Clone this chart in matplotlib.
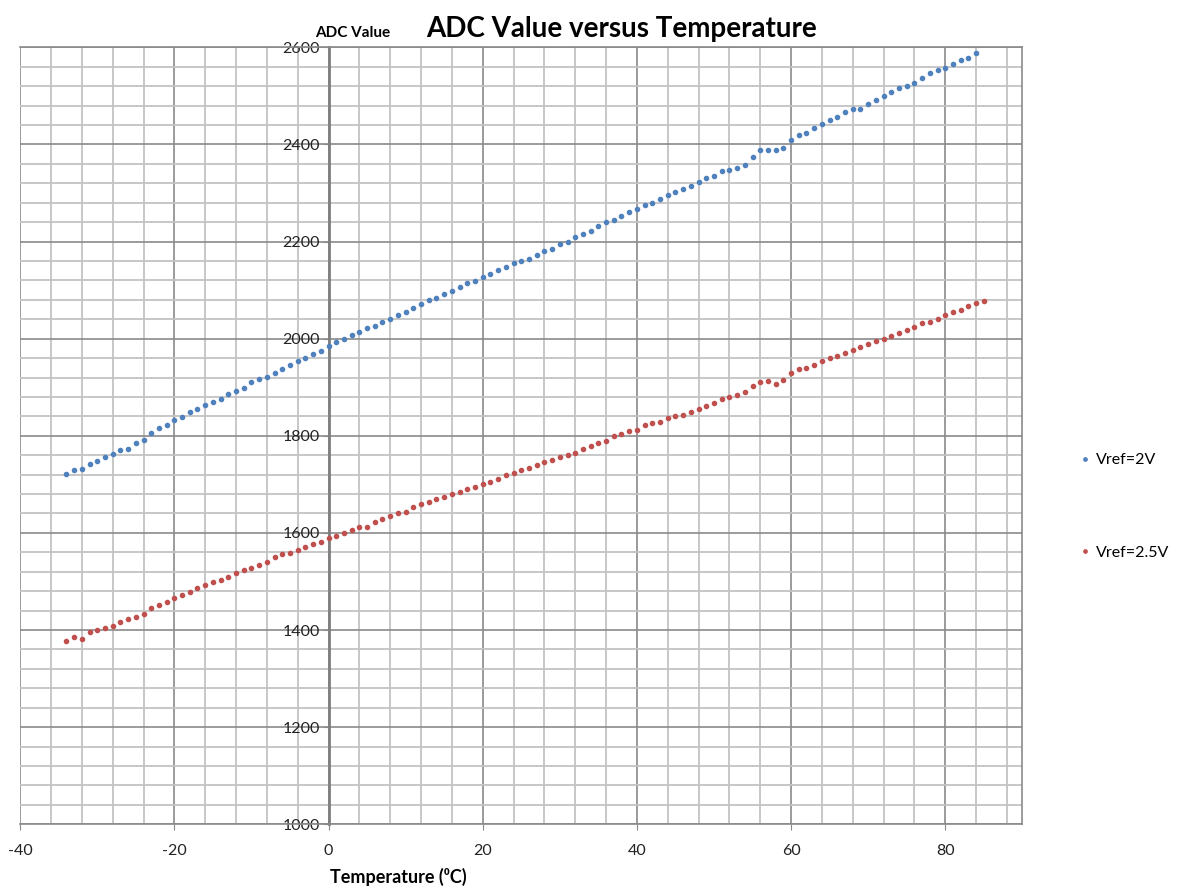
import matplotlib
matplotlib.use('Agg')
import matplotlib.pyplot as plt
from matplotlib.ticker import MultipleLocator

# Temperature (degC) and ADC readings
temp_2v = list(range(-34, 85))
adc_2v = [1722, 1729, 1732, 1742, 1749, 1757, 1763, 1770, 1773, 1785,
          1792, 1805, 1817, 1823, 1832, 1838, 1849, 1856, 1863, 1869,
          1876, 1887, 1893, 1899, 1910, 1917, 1922, 1929, 1938, 1945,
          1955, 1961, 1968, 1974, 1985, 1993, 2000, 2007, 2014, 2021,
          2027, 2034, 2041, 2048, 2055, 2064, 2072, 2079, 2084, 2091,
          2099, 2106, 2114, 2119, 2126, 2134, 2141, 2147, 2156, 2160,
          2165, 2172, 2180, 2185, 2194, 2199, 2209, 2215, 2222, 2233,
          2240, 2245, 2252, 2261, 2268, 2275, 2280, 2288, 2296, 2303,
          2308, 2315, 2323, 2330, 2336, 2345, 2348, 2351, 2357, 2375,
          2388, 2389, 2389, 2393, 2410, 2419, 2423, 2434, 2443, 2450,
          2456, 2467, 2474, 2474, 2484, 2492, 2499, 2508, 2517, 2520,
          2526, 2536, 2547, 2554, 2558, 2566, 2573, 2577, 2588]

temp_25v = list(range(-34, 86))
adc_25v = [1378, 1385, 1381, 1396, 1400, 1405, 1408, 1417, 1422, 1426,
           1434, 1445, 1451, 1458, 1465, 1472, 1479, 1486, 1493, 1499,
           1504, 1510, 1517, 1524, 1527, 1534, 1541, 1551, 1556, 1559,
           1565, 1570, 1577, 1582, 1589, 1594, 1599, 1606, 1612, 1612,
           1623, 1628, 1635, 1640, 1644, 1653, 1659, 1664, 1669, 1673,
           1680, 1685, 1690, 1694, 1701, 1705, 1712, 1719, 1723, 1730,
           1733, 1740, 1747, 1751, 1756, 1761, 1765, 1772, 1779, 1786,
           1790, 1799, 1804, 1809, 1812, 1823, 1827, 1829, 1836, 1841,
           1843, 1850, 1855, 1862, 1867, 1876, 1880, 1883, 1891, 1902,
           1910, 1912, 1907, 1915, 1929, 1937, 1939, 1946, 1955, 1960,
           1964, 1971, 1977, 1982, 1989, 1996, 1999, 2005, 2012, 2018,
           2025, 2032, 2035, 2040, 2049, 2055, 2060, 2067, 2074, 2078]

plt.rcParams['font.family'] = ['Lato', 'DejaVu Sans']
plt.rcParams['axes.unicode_minus'] = False

fig = plt.figure(figsize=(11.86, 8.93), dpi=100)
ax = fig.add_axes([0.017, 0.077, 0.845, 0.870])

ax.plot(temp_2v, adc_2v, linestyle='none', marker='o', ms=3.0,
        color='#4F81BD', label='Vref=2V', zorder=3)
ax.plot(temp_25v, adc_25v, linestyle='none', marker='o', ms=3.0,
        color='#C0504D', label='Vref=2.5V', zorder=3)

ax.set_xlim(-40, 90)
ax.set_ylim(1000, 2600)

# major / minor grid like the spreadsheet chart
ax.xaxis.set_major_locator(MultipleLocator(20))
ax.xaxis.set_minor_locator(MultipleLocator(4))
ax.yaxis.set_major_locator(MultipleLocator(200))
ax.yaxis.set_minor_locator(MultipleLocator(40))
ax.grid(which='minor', color='#c3c3c3', lw=1.3)
ax.grid(which='major', color='#8a8a8a', lw=1.2)
ax.set_axisbelow(True)

# y axis crosses at x = 0
ax.spines['left'].set_position(('data', 0))
ax.spines['left'].set_color('#7f7f7f')
ax.spines['left'].set_linewidth(2)
for s in ['top', 'right', 'bottom']:
    ax.spines[s].set_color('#8a8a8a')
    ax.spines[s].set_linewidth(1.2)

ax.tick_params(which='minor', length=0)
ax.tick_params(axis='y', which='major', length=4, color='#8a8a8a',
               labelsize=11.5, pad=2, labelcolor='#222222')
ax.tick_params(axis='x', which='major', length=4, color='#8a8a8a',
               labelsize=11.5, pad=10, labelcolor='#222222')

fig.text(0.524, 0.967, 'ADC Value versus Temperature', ha='center',
         va='center', fontsize=20, fontweight='bold')
fig.text(0.297, 0.963, 'ADC Value', ha='center', va='center',
         fontsize=11, fontweight='bold')
fig.text(0.336, 0.008, 'Temperature (\u2070C)', ha='center', va='bottom',
         fontsize=13, fontweight='bold')

ax.legend(loc='center left', bbox_to_anchor=(0.896, 0.433),
          bbox_transform=fig.transFigure, frameon=False, fontsize=11.5,
          labelspacing=4.9, handletextpad=0.2, markerscale=0.8,
          handlelength=1.0)

plt.savefig('out.png')
